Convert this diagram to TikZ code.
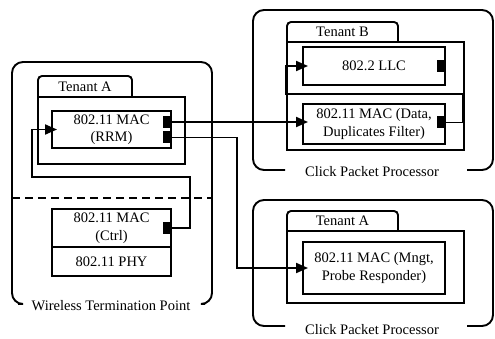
\documentclass[tikz,border=0pt]{standalone}
\usepackage{fontspec}
\setmainfont{Liberation Serif}
\usetikzlibrary{arrows.meta}
\begin{document}
\begin{tikzpicture}[x=1pt,y=-1pt,
  lw/.style={line width=1.9pt},
  box/.style={draw, lw, rectangle, inner sep=0pt, align=center, font=\fontsize{14.5}{17.5}\selectfont},
  lbl/.style={inner sep=0pt, font=\fontsize{14.5}{17.5}\selectfont},
  port/.style={fill=black, draw=none, minimum width=8pt, minimum height=12pt, inner sep=0pt},
  conn/.style={lw, line join=miter},
  arr/.style={conn, -{Triangle[length=12pt,width=10pt]}, shorten >=-6pt},
  outer/.style={lw, rounded corners=11pt}]
\useasboundingbox (0,0) rectangle (495,339);

% ---------- Wireless Termination Point ----------
\draw[outer] (18,304) -- (12,304) -- (12,62) -- (212,62) -- (212,304) -- (205,304);
\node[lbl] (wtp) at (111,306) {Wireless Termination Point};
\draw[lw, dashed, dash pattern=on 8pt off 5pt] (12,198) -- (212,198);

\draw[lw, rounded corners=4pt] (38,97) -- (38,76) -- (132,76) -- (132,97);
\node[lbl] (tenA1) at (85,87) {Tenant A};
\node[box, minimum width=147pt, minimum height=67pt] (contA1) at (111.5,130.5) {};
\node[box, minimum width=119pt, minimum height=37pt] (rrm) at (111.5,129.5) {802.11 MAC\\(RRM)};
\node[port] (rrmp1) at (167,122) {};
\node[port] (rrmp2) at (167,137.5) {};

\node[box, minimum width=119pt, minimum height=38pt] (ctrl) at (111.5,228) {802.11 MAC\\(Ctrl)};
\node[box, minimum width=119pt, minimum height=29pt] (phy) at (111.5,261.5) {802.11 PHY};
\node[port] (ctrlp) at (167,228) {};

% ---------- Click Packet Processor (top) ----------
\draw[outer] (285,170) -- (253,170) -- (253,10) -- (493,10) -- (493,170) -- (467,170);
\node[lbl] (cpp1) at (372,172) {Click Packet Processor};
\draw[lw, rounded corners=4pt] (287,42) -- (287,22) -- (398,22) -- (398,42);
\node[lbl] (tenB) at (342.5,32) {Tenant B};
\node[box, minimum width=177pt, minimum height=108pt] (contB) at (375.5,96) {};
\node[box, minimum width=142pt, minimum height=38pt] (llc) at (374,66) {802.2 LLC};
\node[port] (llcp) at (441,66) {};
\node[box, minimum width=142pt, minimum height=40pt] (mdata) at (374,124) {802.11 MAC (Data,\\Duplicates Filter)};
\node[port] (mdatap) at (441,122.5) {};

% ---------- Click Packet Processor (bottom) ----------
\draw[outer] (285,326) -- (253,326) -- (253,200) -- (493,200) -- (493,326) -- (467,326);
\node[lbl] (cpp2) at (372,330) {Click Packet Processor};
\draw[lw, rounded corners=4pt] (287,231) -- (287,211) -- (398,211) -- (398,231);
\node[lbl] (tenA2) at (342.5,221) {Tenant A};
\node[box, minimum width=177pt, minimum height=72pt] (contA2) at (375.5,267) {};
\node[box, minimum width=142pt, minimum height=52pt] (mngt) at (374,268) {802.11 MAC (Mngt,\\Probe Responder)};

% ---------- Connectors ----------
\draw[arr] (rrmp1.east) -- (rrmp1.east -| mdata.west);
\draw[arr] (rrmp2.east) -- (237,137.5) -- (237,268) -- (mngt.west);
\draw[arr] (ctrlp.east) -- (190,228) -- (190,177) -- (32,177) -- (32,129.5) -- (rrm.west);
\draw[arr] (mdatap.east) -- (463,122.5) -- (463,94) -- (286,94) -- (286,66) -- (llc.west);
\end{tikzpicture}
\end{document}
